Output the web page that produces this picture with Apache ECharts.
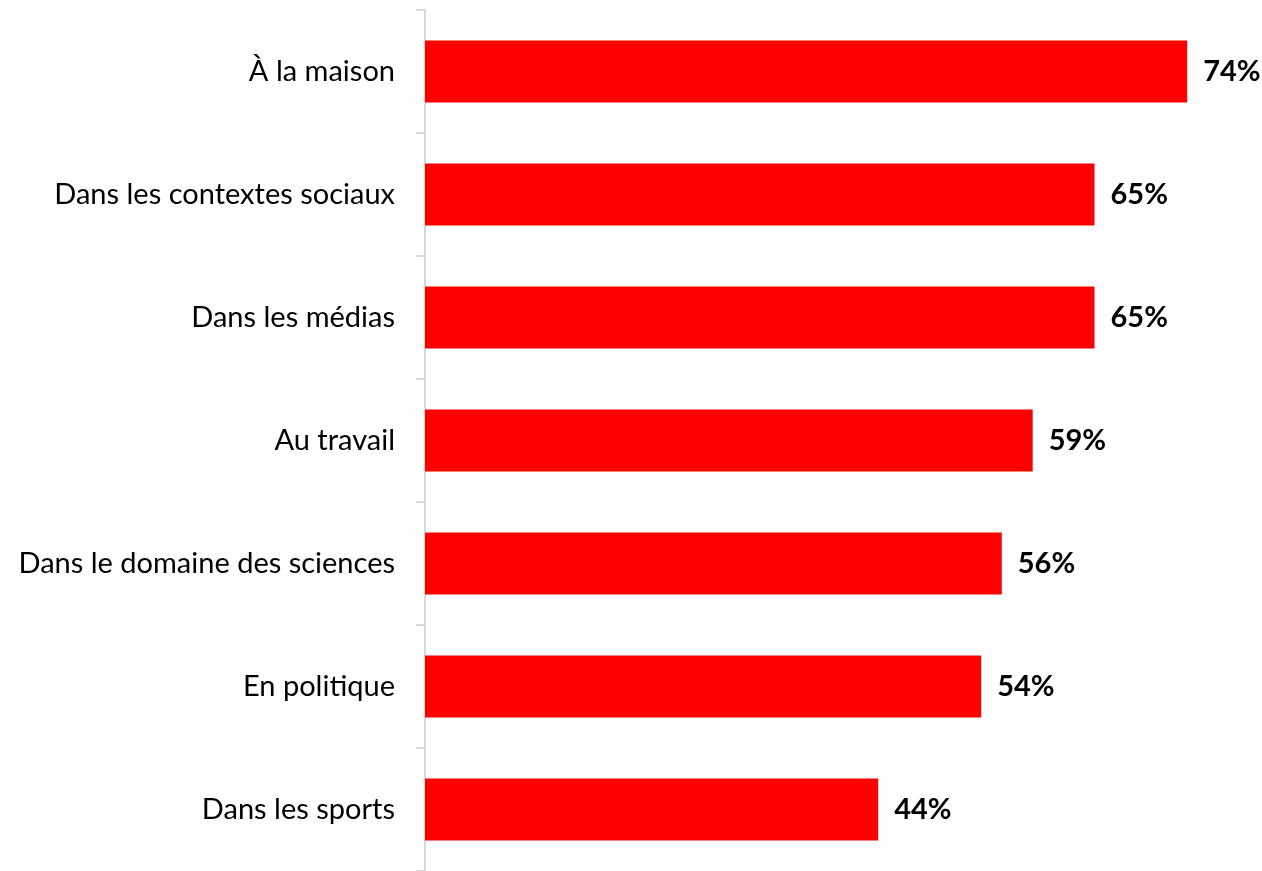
<!DOCTYPE html>
<html>
<head>
<meta charset="utf-8">
<script src="https://cdn.jsdelivr.net/npm/echarts@6/dist/echarts.min.js"></script>
<style>html,body{margin:0;padding:0;background:#fff;}#c{width:1262px;height:871px;}</style>
</head>
<body>
<div id="c"></div>
<script>
const categories = ["À la maison", "Dans les contextes sociaux", "Dans les médias", "Au travail", "Dans le domaine des sciences", "En politique", "Dans les sports"];
const values = [74, 65, 65, 59, 56, 54, 44];

const chart = echarts.init(document.getElementById('c'));
chart.setOption({
  animation: false,
  grid: { left: 425, top: 10, width: 824, height: 864.5, containLabel: false },
  xAxis: { type: 'value', min: 0, max: 80, show: false },
  yAxis: {
    type: 'category', data: categories, inverse: true,
    axisLine: { lineStyle: { color: '#d9d9d9', width: 2 } },
    axisTick: { show: true, length: 9, lineStyle: { color: '#d9d9d9', width: 2 } },
    axisLabel: { fontFamily: 'Lato', fontSize: 29, color: '#000', margin: 30 },
    splitLine: { show: false }
  },
  series: [{
    type: 'bar', data: values, barWidth: 62,
    itemStyle: { color: '#ff0000' },
    label: { show: true, position: 'right', distance: 16, formatter: '{c}%', fontFamily: 'Lato', fontWeight: 'bold', fontSize: 29, color: '#000' }
  }]
});
</script>
</body>
</html>
